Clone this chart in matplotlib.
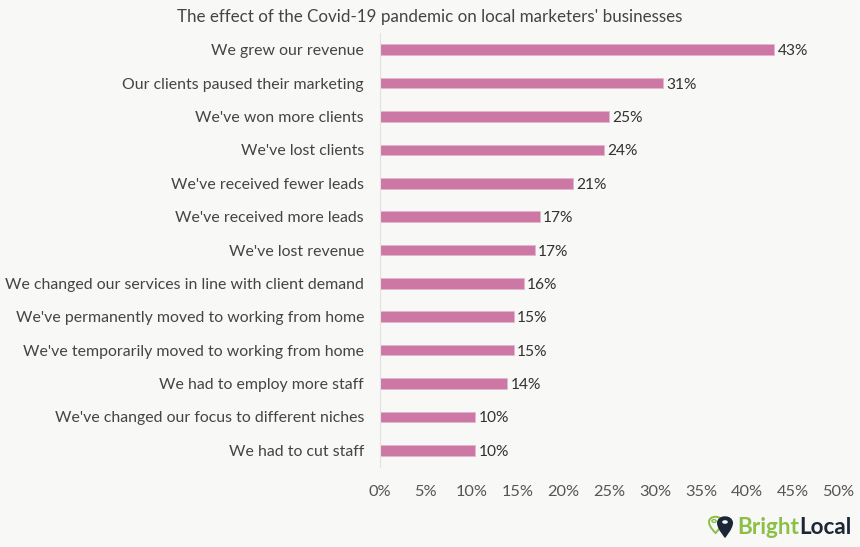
import matplotlib
matplotlib.use("Agg")
import matplotlib.pyplot as plt
from matplotlib.path import Path
from matplotlib.patches import PathPatch, Circle

categories = [
    "We grew our revenue",
    "Our clients paused their marketing",
    "We've won more clients",
    "We've lost clients",
    "We've received fewer leads",
    "We've received more leads",
    "We've lost revenue",
    "We changed our services in line with client demand",
    "We've permanently moved to working from home",
    "We've temporarily moved to working from home",
    "We had to employ more staff",
    "We've changed our focus to different niches",
    "We had to cut staff",
]
values = [43.0, 30.9, 25.0, 24.4, 21.0, 17.4, 16.9, 15.7, 14.6, 14.6, 13.9, 10.4, 10.4]
value_labels = ["43%", "31%", "25%", "24%", "21%", "17%", "17%", "16%", "15%", "15%", "14%", "10%", "10%"]
x_ticks = [0, 5, 10, 15, 20, 25, 30, 35, 40, 45, 50]
title = "The effect of the Covid-19 pandemic on local marketers' businesses"

FONT = "Lato"
BG = "#f8f8f6"
BAR = "#cd78a4"

fig = plt.figure(figsize=(8.6, 5.47), dpi=100, facecolor=BG)
ax = fig.add_axes([380/860, 80/547, 458.5/860, 434/547])
ax.set_facecolor(BG)

ypos = list(range(len(categories)))
ax.barh(ypos, values, height=0.32, color=BAR, edgecolor="#e6b5cf", linewidth=0.6)
ax.set_ylim(len(categories) - 0.5, -0.5)
ax.set_xlim(0, 50)

for y, v, lab in zip(ypos, values, value_labels):
    ax.text(v + 0.35, y, lab, va="center_baseline", ha="left", fontsize=11.2, color="#333333",
            family=FONT)

ax.set_yticks(ypos)
ax.set_yticklabels(categories, fontsize=11.45, color="#444444", family=FONT)
ax.set_xticks(x_ticks)
ax.set_xticklabels([f"{t}%" for t in x_ticks], fontsize=11.8, color="#555555", family=FONT)
ax.tick_params(axis="y", length=0, pad=11.5)
ax.tick_params(axis="x", length=0, pad=13)
for s in ["top", "right", "bottom"]:
    ax.spines[s].set_visible(False)
ax.spines["left"].set_color("#e2e2e2")
ax.spines["left"].set_linewidth(0.8)

fig.text(430/860, 1 - 17/547, title, ha="center", va="center", fontsize=12.25,
         color="#444444", family=FONT)

# logo
fig.text(737/860, 1 - 528/547, "Bright", ha="left", va="center", fontsize=16.2,
         color="#8cbf45", family=FONT, fontweight="bold")
fig.text(799.5/860, 1 - 528/547, "Local", ha="left", va="center", fontsize=16.2,
         color="#1b2737", family=FONT, fontweight="bold")

def fx(px):
    return px / 860
def fy(py):
    return 1 - py / 547

# green outlined pin
gverts = [(fx(709), fy(522)), (fx(709), fy(515)), (fx(722), fy(515)), (fx(722), fy(522)),
          (fx(722), fy(527)), (fx(715.5), fy(533)), (fx(715.5), fy(533)),
          (fx(715.5), fy(533)), (fx(709), fy(527)), (fx(709), fy(522))]
gcodes = [Path.MOVETO, Path.CURVE4, Path.CURVE4, Path.CURVE4, Path.CURVE4, Path.CURVE4,
          Path.CURVE4, Path.CURVE4, Path.CURVE4, Path.CURVE4]
fig.patches.append(PathPatch(Path(gverts, gcodes), transform=fig.transFigure,
                             facecolor="none", edgecolor="#8cbf45", linewidth=1.4))
fig.patches.append(Circle((fx(714), fy(521)), 0.0025, transform=fig.transFigure,
                          facecolor="none", edgecolor="#8cbf45", linewidth=1.0))
# dark pin
dverts = [(fx(717), fy(523)), (fx(717), fy(514)), (fx(733), fy(514)), (fx(733), fy(523)),
          (fx(733), fy(529)), (fx(725), fy(538)), (fx(725), fy(538)),
          (fx(725), fy(538)), (fx(717), fy(529)), (fx(717), fy(523))]
fig.patches.append(PathPatch(Path(dverts, gcodes), transform=fig.transFigure,
                             facecolor="#1b2737", edgecolor="none"))
fig.patches.append(Circle((fx(725), fy(522)), 0.0033, transform=fig.transFigure,
                          facecolor=BG, edgecolor="none"))

fig.savefig("out.png", dpi=100, facecolor=BG)
